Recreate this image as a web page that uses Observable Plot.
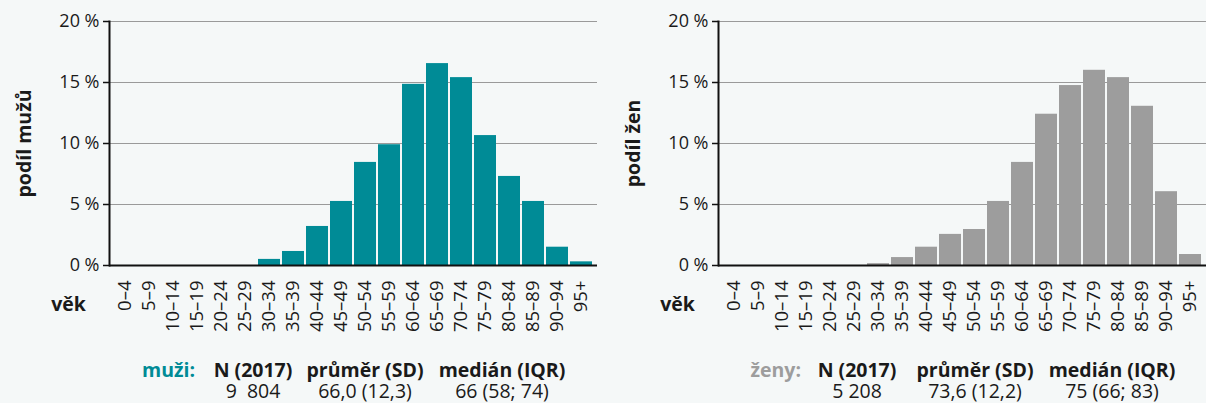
<!DOCTYPE html>
<html>
<head>
<meta charset="utf-8">
<script src="https://cdn.jsdelivr.net/npm/d3@7"></script>
<script src="https://cdn.jsdelivr.net/npm/@observablehq/plot@0.6"></script>
<style>
  html, body { margin: 0; padding: 0; background: #f5f8f8; }
  #wrap { position: relative; width: 1206px; height: 403px; background: #f5f8f8; overflow: hidden;
          font-family: 'Open Sans', sans-serif; color: #1a1a1a; }
  .chart { position: absolute; top: 0; }
  .stat { position: absolute; white-space: pre; font-size: 19.5px; line-height: 20px; transform: translateX(-50%); text-align: center; }
  .hd { font-weight: bold; }
  .lbl { position: absolute; font-weight: bold; font-size: 19.5px; line-height: 20px; white-space: pre; transform: translateX(-100%); }
</style>
</head>
<body>
<div id="wrap"></div>
<script>
const ages = ["0–4","5–9","10–14","15–19","20–24","25–29","30–34","35–39","40–44","45–49","50–54","55–59","60–64","65–69","70–74","75–79","80–84","85–89","90–94","95+"];
const muzi = [0,0,0,0,0,0,0.5,1.15,3.2,5.25,8.45,9.9,14.85,16.55,15.4,10.65,7.3,5.25,1.5,0.3];
const zeny = [0,0,0,0,0,0,0.15,0.65,1.5,2.55,2.95,5.25,8.45,12.4,14.75,16.0,15.4,13.05,6.05,0.9];
const yTicks = [0,5,10,15,20];
const statHeaders = ["N (2017)", "průměr (SD)", "medián (IQR)"];
const muziStats = ["9\u00a0\u00a0804", "66,0 (12,3)", "66 (58; 74)"];
const zenyStats = ["5\u00a0208", "73,6 (12,2)", "75 (66; 83)"];
const groupLabels = ["muži:", "ženy:"];
const yLabels = ["podíl mužů", "podíl žen"];
const colors = ["#008b96", "#9d9d9d"];

function chart(values, color, ylabel) {
  const data = ages.map((a, i) => ({age: a, v: values[i]}));
  return Plot.plot({
    width: 597, height: 340,
    marginLeft: 109, marginRight: 0, marginTop: 21, marginBottom: 75,
    style: {fontFamily: "'Open Sans', sans-serif", fontSize: "18px", color: "#1a1a1a", background: "transparent", overflow: "visible"},
    x: {domain: ages, padding: 0.1},
    y: {domain: [0, 20]},
    marks: [
      Plot.gridY(yTicks, {stroke: "#9a9a9a", strokeOpacity: 1, strokeWidth: 1.2}),
      Plot.barY(data, {x: "age", y: "v", fill: color}),
      Plot.ruleY([0], {stroke: "#111", strokeWidth: 2}),
      Plot.frame({anchor: "left", stroke: "#111", strokeWidth: 2}),
      Plot.axisY(yTicks, {tickFormat: d => d + " %", tickSize: 6, tickPadding: 4, label: null, stroke: "#111", strokeWidth: 1.5}),
      Plot.axisX({tickRotate: -90, tickSize: 0, tickPadding: 15, label: null, fontSize: 18.5}),
      Plot.text([ylabel], {text: d => d, frameAnchor: "left", textAnchor: "middle", lineAnchor: "middle", dx: -85, rotate: -90, fontWeight: "bold", fontSize: 19.5}),
      Plot.text(["věk"], {text: d => d, frameAnchor: "bottom-left", textAnchor: "middle", lineAnchor: "middle", dx: -41, dy: 39, fontWeight: "bold", fontSize: 19.5})
    ]
  });
}

const wrap = document.getElementById("wrap");
const offsets = [0, 609];
[muzi, zeny].forEach((vals, k) => {
  const c = chart(vals, colors[k], yLabels[k]);
  c.classList.add("chart");
  c.style.left = offsets[k] + "px";
  wrap.appendChild(c);
});

const colCenters = [253, 365, 502];
const labelRight = [195, 801];
const statsSets = [muziStats, zenyStats];
const hdTop = 359.5, valTop = 380.5;
[0, 1].forEach(k => {
  const off = offsets[k];
  const lb = document.createElement("div");
  lb.className = "lbl";
  lb.textContent = groupLabels[k];
  lb.style.color = colors[k];
  lb.style.left = labelRight[k] + "px";
  lb.style.top = hdTop + "px";
  wrap.appendChild(lb);
  statHeaders.forEach((h, i) => {
    const x = colCenters[i] + off + (k ? (i === 0 ? -5 : 1) : 0);
    const d1 = document.createElement("div");
    d1.className = "stat hd";
    d1.textContent = h;
    d1.style.left = x + "px";
    d1.style.top = hdTop + "px";
    wrap.appendChild(d1);
    const d2 = document.createElement("div");
    d2.className = "stat";
    d2.textContent = statsSets[k][i];
    d2.style.left = x + "px";
    d2.style.top = valTop + "px";
    wrap.appendChild(d2);
  });
});
</script>
</body>
</html>
